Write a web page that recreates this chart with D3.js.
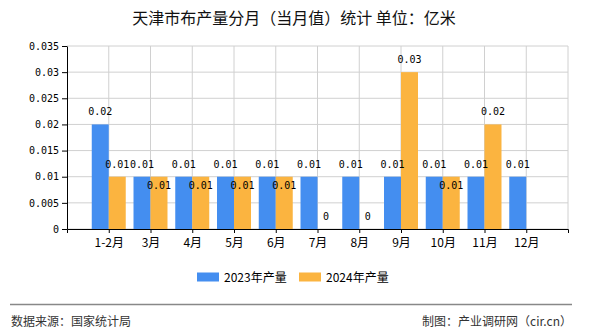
<!DOCTYPE html>
<html><head><meta charset="utf-8">
<script src="https://cdn.jsdelivr.net/npm/d3@7"></script>
<style>body{margin:0;background:#fff}svg{display:block}</style>
</head><body><svg id="c" width="590" height="330"></svg>
<script>
const categories = ["1-2月","3月","4月","5月","6月","7月","8月","9月","10月","11月","12月"];
const series2023 = [0.02,0.01,0.01,0.01,0.01,0.01,0.01,0.01,0.01,0.01,0.01];
const series2024 = [0.01,0.01,0.01,0.01,0.01,0,0,0.03,0.01,0.02,null];
const yTicks = [0,0.005,0.01,0.015,0.02,0.025,0.03,0.035];
const seriesNames = ["2023年产量","2024年产量"];
const colors = ["#448ef0","#fbb440"];

const svg = d3.select("#c");
const M = {l:67, r:568, t:46, b:229};
const x = d3.scalePoint().domain(categories).range([M.l, M.r]).padding(1);
const y = d3.scaleLinear().domain([0,0.035]).range([M.b, M.t]);
const barW = x.step()*0.407;
const monoF = "'DejaVu Sans Mono', monospace";
const cjkF = "'Noto Sans CJK SC', sans-serif";

// title
svg.append("text").attr("x",294).attr("y",24).attr("text-anchor","middle")
  .attr("font-family",cjkF).attr("font-size",16).attr("fill","#111")
  .text("天津市布产量分月（当月值）统计 单位：亿米");

// grid
const g = svg.append("g");
g.selectAll("line.h").data(yTicks).join("line")
  .attr("x1",M.l).attr("x2",M.r).attr("y1",d=>y(d)).attr("y2",d=>y(d))
  .attr("stroke","#d0d0d0");
g.selectAll("line.v").data(categories.map(c=>x(c)).concat([M.r])).join("line")
  .attr("x1",d=>d).attr("x2",d=>d).attr("y1",M.t).attr("y2",M.b)
  .attr("stroke","#d0d0d0");

// bars
const data = [];
categories.forEach((c,i)=>{
  if (series2023[i]!=null) data.push({c, v:series2023[i], s:0});
  if (series2024[i]!=null) data.push({c, v:series2024[i], s:1});
});
svg.append("g").selectAll("rect").data(data).join("rect")
  .attr("x",d=> d.s===0 ? x(d.c)-barW : x(d.c))
  .attr("width",barW)
  .attr("y",d=>y(d.v)).attr("height",d=>M.b-y(d.v))
  .attr("fill",d=>colors[d.s]);

// labels with simple overlap avoidance
const lab = data.map(d=>{
  const t = String(d.v);
  const cx = d.s===0 ? x(d.c)-barW/2 : x(d.c)+barW/2;
  return {d, t, cx, w:t.length*6, by:y(d.v)-9};
});
lab.forEach(a=>{
  if (a.d.s!==1) return;
  lab.forEach(b=>{
    if (b.d.s!==0 || b.d.c!==a.d.c) return;
    const xo = Math.abs(a.cx-b.cx) < (a.w+b.w)/2;
    const yo = Math.abs(a.by-b.by) < 10;
    if (xo && yo) a.by += 21;
  });
});
svg.append("g").selectAll("text").data(lab).join("text")
  .attr("x",d=>d.cx).attr("y",d=>d.by).attr("text-anchor","middle")
  .attr("font-family",monoF).attr("font-size",10).attr("fill","#000")
  .text(d=>d.t);

// axes
const ya = svg.append("g").attr("transform",`translate(${M.l},0)`)
  .call(d3.axisLeft(y).tickValues(yTicks).tickFormat(d=>String(d)).tickSize(5).tickSizeOuter(0).tickPadding(3));
ya.selectAll("text").attr("font-family",monoF).attr("font-size",10).attr("fill","#000");
ya.selectAll("line,path").attr("stroke","#000");

const xa = svg.append("g").attr("transform",`translate(0,${M.b})`)
  .call(d3.axisBottom(x).tickSize(4).tickSizeOuter(4).tickPadding(5));
xa.selectAll("text").attr("font-family",cjkF).attr("font-size",12).attr("fill","#000");
xa.selectAll("line,path").attr("stroke","#000");

// legend
const lg = svg.append("g");
const lx = [197,299];
seriesNames.forEach((n,i)=>{
  lg.append("rect").attr("x",lx[i]).attr("y",272.5).attr("width",22).attr("height",9).attr("fill",colors[i]);
  lg.append("text").attr("x",lx[i]+27).attr("y",282).attr("font-family",cjkF).attr("font-size",12).attr("fill","#000").text(n);
});

// footer
svg.append("line").attr("x1",10).attr("x2",572).attr("y1",304.5).attr("y2",304.5).attr("stroke","#888").attr("stroke-width",1.5);
svg.append("text").attr("x",11).attr("y",326).attr("font-family",cjkF).attr("font-size",12).attr("fill","#333").text("数据来源：国家统计局");
svg.append("text").attr("x",572).attr("y",326).attr("text-anchor","end").attr("font-family",cjkF).attr("font-size",12).attr("fill","#333").text("制图：产业调研网（cir.cn）");
</script></body></html>
